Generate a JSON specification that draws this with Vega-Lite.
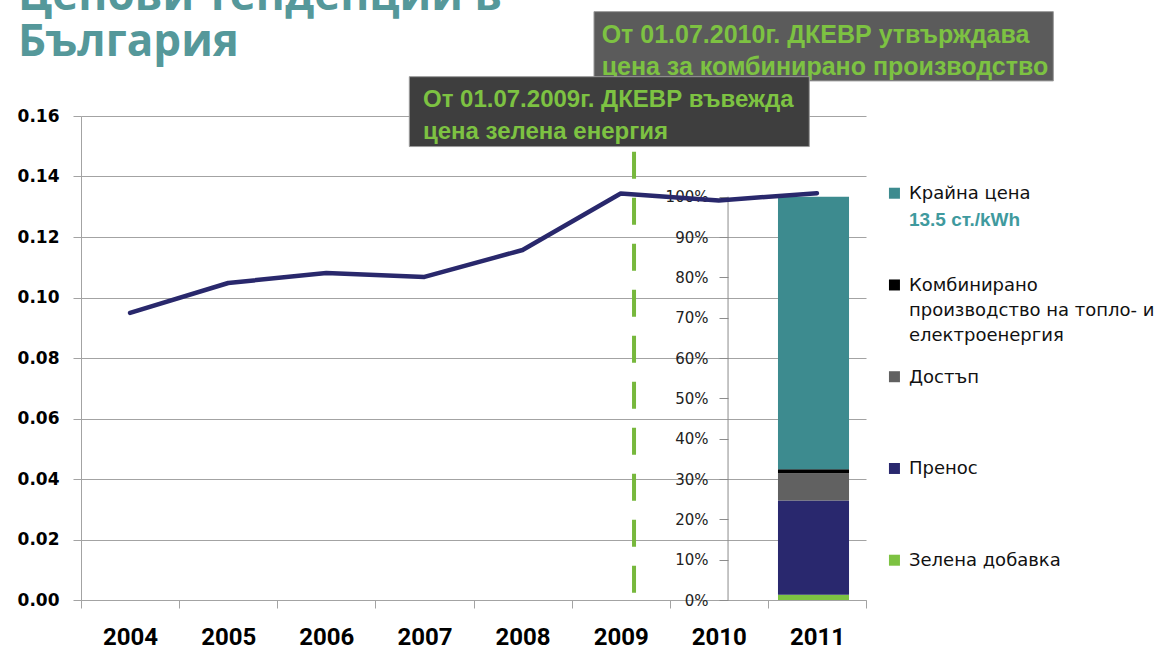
{
  "$schema": "https://vega.github.io/schema/vega-lite/v6.json",
  "width": 785,
  "height": 484,
  "autosize": {"type": "none"},
  "padding": {"left": 81, "top": 116, "right": 310, "bottom": 50},
  "background": "white",
  "title": {
    "text": ["Ценови тенденции в", "България"],
    "anchor": "start",
    "frame": "group",
    "dx": -63,
    "dy": 92,
    "offset": 3,
    "font": "Open Sans",
    "fontSize": 44,
    "fontWeight": "bold",
    "color": "#55989a",
    "baseline": "alphabetic",
    "lineHeight": 46
  },
  "config": {"view": {"stroke": null}},
  "datasets": {
    "price": [
      {"year": 2004, "price": 0.0949},
      {"year": 2005, "price": 0.1048},
      {"year": 2006, "price": 0.1081},
      {"year": 2007, "price": 0.1068},
      {"year": 2008, "price": 0.1157},
      {"year": 2009, "price": 0.1344},
      {"year": 2010, "price": 0.1321},
      {"year": 2011, "price": 0.1345}
    ],
    "mix": [
      {"component": "Зелена добавка", "label": "Зелена добавка", "sub": "", "share": 0.013, "order": 1},
      {"component": "Пренос", "label": "Пренос", "sub": "", "share": 0.234, "order": 2},
      {"component": "Достъп", "label": "Достъп", "sub": "", "share": 0.067, "order": 3},
      {"component": "Комбинирано производство на топло- и електроенергия", "label": "Комбинирано\nпроизводство на топло- и\nелектроенергия", "sub": "", "share": 0.010, "order": 4},
      {"component": "Крайна цена", "label": "Крайна цена", "sub": "13.5 ст./kWh", "share": 0.676, "order": 5}
    ]
  },
  "layer": [
    {
      "layer": [
        {
          "data": {"name": "mix"},
          "transform": [
            {"stack": "share", "groupby": [], "sort": [{"field": "order", "order": "ascending"}], "as": ["start", "end"]}
          ],
          "mark": {"type": "bar"},
          "encoding": {
            "x": {"datum": 2010.603, "type": "quantitative", "scale": {"domain": [2003.5, 2011.5], "nice": false, "zero": false}},
            "x2": {"datum": 2011.327},
            "y": {
              "field": "start",
              "type": "quantitative",
              "scale": {"domain": [0, 1.2], "nice": false, "zero": false},
              "axis": {
                "orient": "left",
                "offset": -647,
                "values": [0, 0.1, 0.2, 0.3, 0.4, 0.5, 0.6, 0.7, 0.8, 0.9, 1],
                "format": ".0%",
                "title": null,
                "grid": false,
                "domain": false,
                "tickColor": "#8c8c8c",
                "tickSize": 9,
                "labelFont": "DejaVu Sans",
                "labelFontSize": 15,
                "labelColor": "#222222",
                "labelPadding": 11,
                "labelFlush": false
              }
            },
            "y2": {"field": "end"},
            "color": {
              "field": "component",
              "type": "nominal",
              "scale": {
                "domain": ["Крайна цена", "Комбинирано производство на топло- и електроенергия", "Достъп", "Пренос", "Зелена добавка"],
                "range": ["#3d8b8f", "#000000", "#616161", "#29286e", "#7dc242"]
              },
              "legend": null
            }
          }
        },
        {
          "data": {"values": [{"k": "axis"}]},
          "mark": {"type": "rule", "color": "#8c8c8c", "strokeWidth": 1},
          "encoding": {
            "x": {"datum": 2010.094, "type": "quantitative", "scale": {"domain": [2003.5, 2011.5], "nice": false, "zero": false}},
            "y": {"datum": 0, "type": "quantitative", "scale": {"domain": [0, 1.2], "nice": false, "zero": false}},
            "y2": {"datum": 1}
          }
        }
      ]
    },
    {
      "layer": [
        {
          "data": {"values": [{"k": "2009"}]},
          "mark": {"type": "rule", "color": "#77b83c", "strokeWidth": 4, "strokeDash": [27, 19]},
          "encoding": {
            "x": {"datum": 2009.136, "type": "quantitative", "scale": {"domain": [2003.5, 2011.5], "nice": false, "zero": false}},
            "y": {"datum": 0.1482, "type": "quantitative", "scale": {"domain": [0, 0.16], "nice": false, "zero": false}},
            "y2": {"datum": 0}
          }
        },
        {
          "data": {"name": "price"},
          "mark": {"type": "line", "color": "#29286c", "strokeWidth": 4.5, "strokeCap": "round", "strokeJoin": "round"},
          "encoding": {
            "x": {
              "field": "year",
              "type": "quantitative",
              "scale": {"domain": [2003.5, 2011.5], "nice": false, "zero": false},
              "axis": {
                "values": [2003.5, 2004, 2004.5, 2005, 2005.5, 2006, 2006.5, 2007, 2007.5, 2008, 2008.5, 2009, 2009.5, 2010, 2010.5, 2011, 2011.5],
                "labelExpr": "datum.value % 1 === 0 ? format(datum.value, 'd') : ''",
                "tickOpacity": {"condition": {"test": "datum.value % 1 !== 0", "value": 1}, "value": 0},
                "title": null,
                "grid": false,
                "domainColor": "#a3a3a3",
                "tickColor": "#a3a3a3",
                "tickSize": 8,
                "labelFont": "Roboto",
                "labelFontSize": 24,
                "labelFontWeight": "bold",
                "labelColor": "#000000",
                "labelPadding": 17,
                "labelOverlap": false,
                "labelFlush": false
              }
            },
            "y": {
              "field": "price",
              "type": "quantitative",
              "scale": {"domain": [0, 0.16], "nice": false, "zero": false},
              "axis": {
                "orient": "left",
                "values": [0, 0.02, 0.04, 0.06, 0.08, 0.1, 0.12, 0.14, 0.16],
                "format": ".2f",
                "title": null,
                "grid": true,
                "gridColor": "#a3a3a3",
                "domainColor": "#a3a3a3",
                "tickColor": "#a3a3a3",
                "tickSize": 8,
                "labelFont": "DejaVu Sans",
                "labelFontSize": 17,
                "labelFontWeight": "bold",
                "labelColor": "#000000",
                "labelPadding": 14,
                "labelFlush": false
              }
            }
          }
        },
        {
          "data": {"values": [{"note": "От 01.07.2010г. ДКЕВР утвърждава\nцена за комбинирано производство"}]},
          "mark": {"type": "rect", "color": "#5b5b5b", "stroke": "#9a9a9a", "strokeWidth": 1},
          "encoding": {
            "x": {"datum": 2008.728, "type": "quantitative", "scale": {"domain": [2003.5, 2011.5], "nice": false, "zero": false}},
            "x2": {"datum": 2013.409},
            "y": {"datum": 0.1945, "type": "quantitative", "scale": {"domain": [0, 0.16], "nice": false, "zero": false}},
            "y2": {"datum": 0.1716}
          }
        },
        {
          "data": {"values": [{"note": "От 01.07.2010г. ДКЕВР утвърждава\nцена за комбинирано производство"}]},
          "mark": {"type": "text", "align": "left", "baseline": "alphabetic", "lineBreak": "\n", "lineHeight": 32, "font": "Liberation Sans", "fontSize": 25, "fontWeight": "bold", "color": "#7dc242"},
          "encoding": {
            "x": {"datum": 2008.806, "type": "quantitative", "scale": {"domain": [2003.5, 2011.5], "nice": false, "zero": false}},
            "y": {"datum": 0.18423, "type": "quantitative", "scale": {"domain": [0, 0.16], "nice": false, "zero": false}},
            "text": {"field": "note"}
          }
        },
        {
          "data": {"values": [{"note": "От 01.07.2009г. ДКЕВР въвежда\nцена зелена енергия"}]},
          "mark": {"type": "rect", "color": "#3e3e3e", "stroke": "#9a9a9a", "strokeWidth": 1},
          "encoding": {
            "x": {"datum": 2006.846, "type": "quantitative", "scale": {"domain": [2003.5, 2011.5], "nice": false, "zero": false}},
            "x2": {"datum": 2010.922},
            "y": {"datum": 0.1730, "type": "quantitative", "scale": {"domain": [0, 0.16], "nice": false, "zero": false}},
            "y2": {"datum": 0.1499}
          }
        },
        {
          "data": {"values": [{"note": "От 01.07.2009г. ДКЕВР въвежда\nцена зелена енергия"}]},
          "mark": {"type": "text", "align": "left", "baseline": "alphabetic", "lineBreak": "\n", "lineHeight": 32, "font": "Liberation Sans", "fontSize": 24, "fontWeight": "bold", "color": "#7dc242"},
          "encoding": {
            "x": {"datum": 2006.985, "type": "quantitative", "scale": {"domain": [2003.5, 2011.5], "nice": false, "zero": false}},
            "y": {"datum": 0.16307, "type": "quantitative", "scale": {"domain": [0, 0.16], "nice": false, "zero": false}},
            "text": {"field": "note"}
          }
        }
      ]
    },
    {
      "data": {"name": "mix"},
      "layer": [
        {
          "mark": {"type": "square", "size": 121, "filled": true, "opacity": 1},
          "encoding": {
            "x": {"datum": 2011.79, "type": "quantitative", "scale": {"domain": [2003.5, 2011.5], "nice": false, "zero": false}},
            "y": {
              "field": "component",
              "type": "nominal",
              "scale": {"type": "point", "domain": ["Крайна цена", "Комбинирано производство на топло- и електроенергия", "Достъп", "Пренос", "Зелена добавка"], "padding": 0.6377, "align": 0.66},
              "axis": null
            },
            "color": {
              "field": "component",
              "type": "nominal",
              "scale": {
                "domain": ["Крайна цена", "Комбинирано производство на топло- и електроенергия", "Достъп", "Пренос", "Зелена добавка"],
                "range": ["#3d8b8f", "#000000", "#616161", "#29286e", "#7dc242"]
              },
              "legend": null
            }
          }
        },
        {
          "mark": {"type": "text", "align": "left", "baseline": "alphabetic", "dx": 14.5, "dy": 6, "lineBreak": "\n", "lineHeight": 25, "font": "DejaVu Sans", "fontSize": 18, "color": "#111111"},
          "encoding": {
            "x": {"datum": 2011.79, "type": "quantitative", "scale": {"domain": [2003.5, 2011.5], "nice": false, "zero": false}},
            "y": {
              "field": "component",
              "type": "nominal",
              "scale": {"type": "point", "domain": ["Крайна цена", "Комбинирано производство на топло- и електроенергия", "Достъп", "Пренос", "Зелена добавка"], "padding": 0.6377, "align": 0.66},
              "axis": null
            },
            "text": {"field": "label"}
          }
        },
        {
          "mark": {"type": "text", "align": "left", "baseline": "alphabetic", "dx": 14.5, "dy": 33, "font": "Liberation Sans", "fontSize": 19, "fontWeight": "bold", "color": "#3f9a9e"},
          "encoding": {
            "x": {"datum": 2011.79, "type": "quantitative", "scale": {"domain": [2003.5, 2011.5], "nice": false, "zero": false}},
            "y": {
              "field": "component",
              "type": "nominal",
              "scale": {"type": "point", "domain": ["Крайна цена", "Комбинирано производство на топло- и електроенергия", "Достъп", "Пренос", "Зелена добавка"], "padding": 0.6377, "align": 0.66},
              "axis": null
            },
            "text": {"field": "sub"}
          }
        }
      ]
    }
  ],
  "resolve": {"scale": {"y": "independent"}, "axis": {"y": "independent"}}
}
